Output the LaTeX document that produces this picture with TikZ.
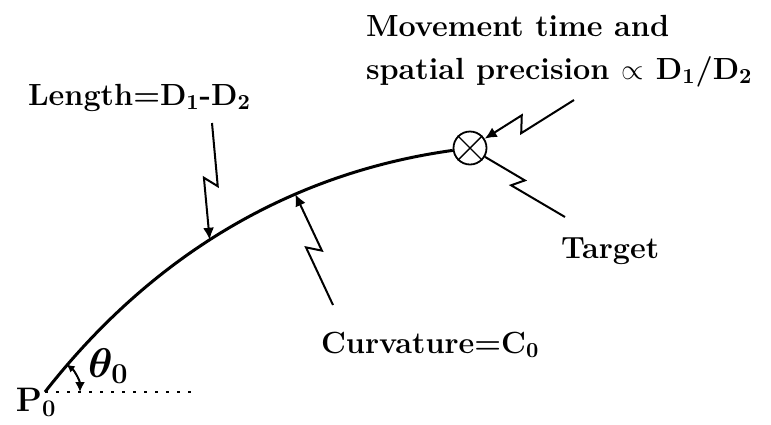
\documentclass[tikz,border=0pt]{standalone}
\usepackage{amsmath,amssymb}
\usepackage{tikz}
\usetikzlibrary{arrows.meta,calc}

\begin{document}
\begin{tikzpicture}[x=0.5pt,y=-0.5pt,line width=1pt,
    lbl/.style={font=\fontsize{15.3}{21.5}\selectfont\bfseries,inner sep=0pt,anchor=base west},
    big/.style={font=\fontsize{#1}{#1}\selectfont\bfseries\boldmath,inner sep=0pt,anchor=base west},
    tip/.style={-{Latex[length=6pt,width=5.5pt]}},
    bolt/.style={to path={-- ($(\tikztostart)!0.54!(\tikztotarget)!#1!90:(\tikztotarget)$)
      -- ($(\tikztostart)!0.47!(\tikztotarget)!#1!-90:(\tikztotarget)$) -- (\tikztotarget)}},
    bolt/.default=3.5pt]
  \useasboundingbox (0,0) rectangle (771,424);
  % labels
  \node[lbl] (len) at (27,105) {Length=D\textsubscript{1}-D\textsubscript{2}};
  \node[lbl,anchor=north west,align=left] (mv) at (365,14)
    {Movement time and\\spatial precision\hspace{6pt}$\propto$\hspace{6pt}D\textsubscript{1}/D\textsubscript{2}};
  \node[lbl] (tgl) at (560,258) {Target};
  \node[lbl] (cur) at (320,353) {Curvature=C\textsubscript{0}};
  \node[big=17] (p0) at (15,411) {P\textsubscript{0}};
  \node[big=21] (th) at (87,377) {$\theta_0$};
  % target
  \node[draw,circle,minimum size=16.5pt,inner sep=0pt,line width=0.9pt] (tgt) at (470,148) {};
  \draw[line width=0.7pt] (tgt.45) -- (tgt.225) (tgt.135) -- (tgt.315);
  % path of the movement
  \coordinate (o) at (45,392);
  \draw[line width=1.5pt] (o) .. controls (156,250) and (297,172) .. (tgt)
    coordinate[pos=0.445] (lenB) coordinate[pos=0.65] (curB);
  \coordinate (dotE) at (192,392);
  \draw[line width=1.3pt,dash pattern=on 1.3pt off 4.2pt] (o) -- (dotE);
  \draw[{Latex[length=4pt,width=4pt]}-{Latex[length=5pt,width=5pt]}]
    ($(o)+(52:17.5pt)$) arc[start angle=52,end angle=0,radius=17.5pt];
  % pointers
  \coordinate (lenA) at (212,123);
  \coordinate (curA) at (333,305);
  \coordinate (mvA) at (574,100);
  \coordinate (tgA) at (565,217);
  \draw[tip] (lenA) to[bolt] (lenB);
  \draw[tip] (curA) to[bolt] (curB);
  \draw[tip] (mvA) to[bolt=4pt] (tgt);
  \draw (tgt) to[bolt=3pt] (tgA);
\end{tikzpicture}
\end{document}
